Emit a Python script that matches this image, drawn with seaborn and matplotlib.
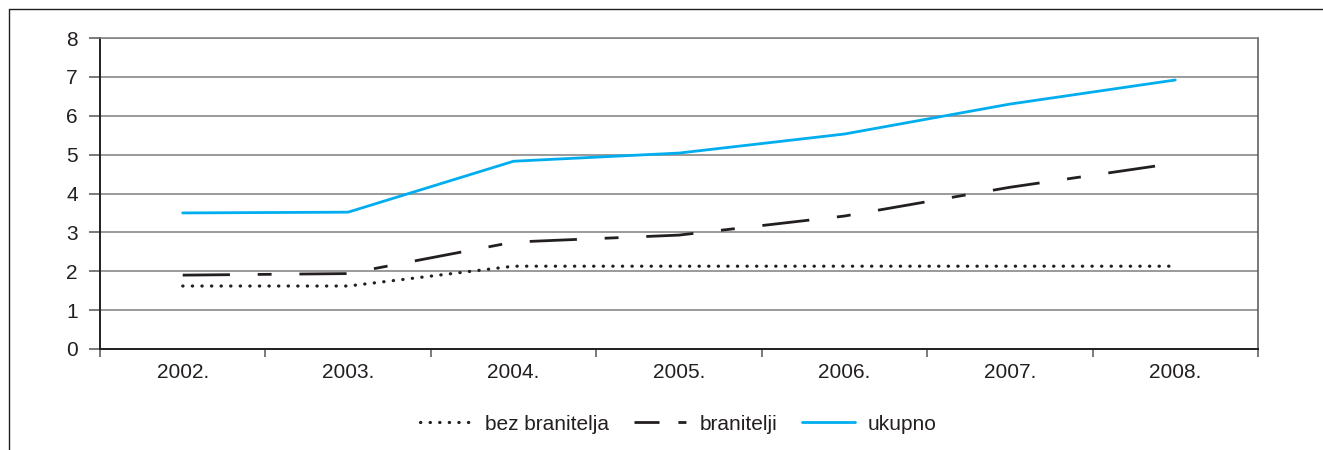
import matplotlib
matplotlib.use("Agg")
import matplotlib.pyplot as plt
import pandas as pd
import seaborn as sns
from matplotlib.lines import Line2D
from matplotlib.ticker import FixedLocator

years = ["2002.", "2003.", "2004.", "2005.", "2006.", "2007.", "2008."]
bez_branitelja = [1.62, 1.62, 2.13, 2.13, 2.13, 2.13, 2.13]
branitelji = [1.90, 1.94, 2.75, 2.93, 3.42, 4.16, 4.78]
ukupno = [3.50, 3.52, 4.83, 5.04, 5.53, 6.30, 6.92]

series = ["bez branitelja", "branitelji", "ukupno"]

df = pd.DataFrame({
    "godina": years * 3,
    "vrijednost": bez_branitelja + branitelji + ukupno,
    "serija": [series[0]] * 7 + [series[1]] * 7 + [series[2]] * 7,
})

sns.set_theme(style="white")
plt.rcParams["font.family"] = ["Liberation Sans", "DejaVu Sans"]

fig = plt.figure(figsize=(13.23, 4.5), dpi=100)
ax = fig.add_axes([100 / 1323, 1 - 349 / 450, 1158 / 1323, 311 / 450])

black = "#231f20"
blue = "#00aeef"
palette = {"bez branitelja": black, "branitelji": black, "ukupno": blue}
dashes = {"bez branitelja": (0.1, 3.0), "branitelji": (17, 10, 5, 10), "ukupno": ""}

sns.lineplot(data=df, x="godina", y="vrijednost", hue="serija", style="serija",
             palette=palette, dashes=dashes, linewidth=2.0, sort=False,
             legend=False, ax=ax)
dotted = ax.lines[0]
dotted.set_linewidth(2.3)
dotted.set_dashes((0.1, 2.9))
dotted.set_dash_capstyle("round")

ax.set_xlim(-0.5, 6.5)
ax.set_ylim(0, 8)
ax.set_yticks(range(0, 9))
ax.set_xlabel("")
ax.set_ylabel("")
ax.grid(axis="y", color="#7f7f7f", linewidth=1.1)
ax.set_axisbelow(True)

for side in ["left", "bottom"]:
    ax.spines[side].set_color(black)
    ax.spines[side].set_linewidth(1.4)
ax.spines["right"].set_color("#555555")
ax.spines["right"].set_linewidth(1.1)
ax.spines["top"].set_color("#7f7f7f")
ax.spines["top"].set_linewidth(1.1)

ax.tick_params(axis="y", which="major", direction="out", length=8, width=1.1,
               color="#555555", left=True, labelsize=15, pad=8, labelcolor=black)
ax.tick_params(axis="x", which="major", length=0, labelsize=15, pad=10, labelcolor=black)
ax.xaxis.set_minor_locator(FixedLocator([i - 0.5 for i in range(8)]))
ax.tick_params(axis="x", which="minor", direction="out", length=6, width=1.1,
               color="#555555", bottom=True)

handles = [
    Line2D([], [], color=black, linewidth=2.3, linestyle=(0, (0.1, 2.9)),
           dash_capstyle="round"),
    Line2D([], [], color=black, linewidth=2.0, linestyle=(0, (9, 6.8, 2.9, 6.8))),
    Line2D([], [], color=blue, linewidth=2.0),
]
fig.legend(handles, series, loc="center", bbox_to_anchor=(0.5125, 1 - 424 / 450),
           ncol=3, frameon=False, fontsize=15, handlelength=2.55, columnspacing=1.2,
           handletextpad=0.58, labelcolor=black)

# outer frame, cropped at right and bottom
fig.add_artist(Line2D([9 / 1323, 9 / 1323], [1 - 9 / 450, 0], transform=fig.transFigure,
                      color=black, linewidth=1.0))
fig.add_artist(Line2D([9 / 1323, 1], [1 - 9 / 450, 1 - 9 / 450], transform=fig.transFigure,
                      color=black, linewidth=1.0))

fig.savefig("out.png", dpi=100)
